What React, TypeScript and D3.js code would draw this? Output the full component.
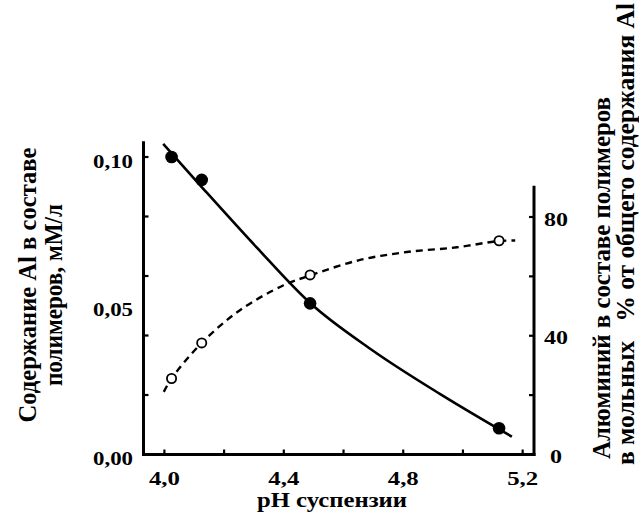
import React from "react";
import * as d3 from "d3";

// Measured points: pH of suspension
const PH_POINTS = [4.024, 4.125, 4.488, 5.121];
// Al in polymers, mM/L (filled circles, left axis)
const AL_CONC = [0.1, 0.0923, 0.0508, 0.0088];
// Al in polymers, mol % of total Al (open circles, right axis)
const AL_PERCENT = [25.6, 37.6, 60.5, 72.0];

// Smoothed trend through the concentration data
const CONC_CURVE_PH = [3.996, 4.125, 4.309, 4.488, 4.7, 4.924, 5.164];
const CONC_CURVE_VAL = [0.1044, 0.0899, 0.0696, 0.0509, 0.0348, 0.0203, 0.006];

// Smoothed trend through the percentage data
const PCT_CURVE_PH = [3.998, 4.024, 4.125, 4.253, 4.399, 4.488, 4.65, 4.812, 4.98, 5.119, 5.175];
const PCT_CURVE_VAL = [21.1, 25.6, 37.6, 48.6, 57.0, 60.3, 65.4, 68.2, 69.8, 71.9, 72.1];

// Axis ticks and labels
const X_TICKS = [4.0, 4.2, 4.4, 4.6, 4.8, 5.0, 5.2];
const X_LABELS = [4.0, 4.4, 4.8, 5.2];
const LEFT_TICKS = [0.02, 0.04, 0.06, 0.08, 0.1];
const LEFT_LABELS = [0.0, 0.05, 0.1];
const RIGHT_TICKS = [20, 40, 60, 80];
const RIGHT_LABELS = [0, 40, 80];

const FONT = "'Liberation Serif', 'Times New Roman', serif";
const comma = (v: number, digits: number) => v.toFixed(digits).replace(".", ",");

export default function App() {
  const x = d3.scaleLinear().domain([3.93, 5.238]).range([143.5, 534]);
  const yL = d3.scaleLinear().domain([0, 0.1]).range([454.5, 157]);
  const yR = d3.scaleLinear().domain([0, 80]).range([454.5, 217]);

  const concLine = d3
    .line<number>()
    .x((_, i) => x(CONC_CURVE_PH[i]))
    .y((d) => yL(d))
    .curve(d3.curveMonotoneX);
  const pctLine = d3
    .line<number>()
    .x((_, i) => x(PCT_CURVE_PH[i]))
    .y((d) => yR(d))
    .curve(d3.curveCatmullRom.alpha(0.5));

  const xLeft = x.range()[0];
  const xRight = x.range()[1];
  const yBottom = yL(0);
  const leftTop = yL(0.1048);
  const rightTop = yR(90);
  const tickLen = 5;

  return (
    <svg
      width={639}
      height={519}
      style={{ position: "absolute", left: 0, top: 0, background: "#fff", fontFamily: FONT }}
      fontWeight="bold"
    >
      <rect width={639} height={519} fill="#fff" />

      {/* axes frame */}
      <g stroke="#000" strokeWidth={3} fill="none" strokeLinecap="square">
        <line x1={xLeft} y1={leftTop} x2={xLeft} y2={yBottom} />
        <line x1={xLeft} y1={yBottom} x2={xRight} y2={yBottom} />
        <line x1={xRight} y1={rightTop} x2={xRight} y2={yBottom} />
      </g>

      {/* ticks */}
      <g stroke="#000" strokeWidth={2.2}>
        {X_TICKS.map((t) => (
          <line key={"xt" + t} x1={x(t)} x2={x(t)} y1={yBottom} y2={yBottom - tickLen} />
        ))}
        {LEFT_TICKS.map((t) => (
          <line key={"lt" + t} x1={xLeft} x2={xLeft + tickLen} y1={yL(t)} y2={yL(t)} />
        ))}
        {RIGHT_TICKS.map((t) => (
          <line key={"rt" + t} x1={xRight} x2={xRight - tickLen} y1={yR(t)} y2={yR(t)} />
        ))}
      </g>

      {/* tick labels */}
      <g fontSize={19} fill="#000">
        {X_LABELS.map((t) => (
          <text
            key={"xl" + t}
            x={x(t) - 15.5}
            y={485}
            textLength={31}
            lengthAdjust="spacingAndGlyphs"
          >
            {comma(t, 1)}
          </text>
        ))}
        {LEFT_LABELS.map((t) => (
          <text
            key={"ll" + t}
            x={133 - 40}
            y={yL(t) + 4}
            dominantBaseline="central"
            textLength={40}
            lengthAdjust="spacingAndGlyphs"
          >
            {comma(t, 2)}
          </text>
        ))}
        {RIGHT_LABELS.map((t) => {
          const w = t === 0 ? 12 : 24;
          return (
            <text
              key={"rl" + t}
              x={556 - w / 2}
              y={yR(t) + 2}
              dominantBaseline="central"
              textLength={w}
              lengthAdjust="spacingAndGlyphs"
            >
              {String(t)}
            </text>
          );
        })}
      </g>

      {/* axis titles */}
      <text
        x={332}
        y={507}
        fontSize={22}
        textAnchor="middle"
        textLength={150}
        lengthAdjust="spacingAndGlyphs"
      >
        pH суспензии
      </text>

      <g fontSize={25}>
        <text
          transform="translate(36,285) rotate(-90)"
          textAnchor="middle"
          textLength={275}
          lengthAdjust="spacingAndGlyphs"
        >
          Содержание Al в составе
        </text>
        <text
          transform="translate(62,295) rotate(-90)"
          textAnchor="middle"
          textLength={182}
          lengthAdjust="spacingAndGlyphs"
        >
          полимеров, мМ/л
        </text>
        <text
          transform="translate(610,278) rotate(-90)"
          textAnchor="middle"
          textLength={362}
          lengthAdjust="spacingAndGlyphs"
        >
          Алюминий в составе полимеров
        </text>
        <text
          transform="translate(634,234) rotate(-90)"
          textAnchor="middle"
          textLength={462}
          lengthAdjust="spacingAndGlyphs"
          style={{ whiteSpace: "pre" }}
        >
          {"в мольных   % от общего содержания Al"}
        </text>
      </g>

      {/* curves */}
      <path d={concLine(CONC_CURVE_VAL) ?? ""} fill="none" stroke="#000" strokeWidth={2.6} />
      <path
        d={pctLine(PCT_CURVE_VAL) ?? ""}
        fill="none"
        stroke="#000"
        strokeWidth={2.4}
        strokeDasharray="7,5"
      />

      {/* markers */}
      {PH_POINTS.map((p, i) => (
        <circle key={"f" + i} cx={x(p)} cy={yL(AL_CONC[i])} r={6.3} fill="#000" />
      ))}
      {PH_POINTS.map((p, i) => (
        <circle
          key={"o" + i}
          cx={x(p)}
          cy={yR(AL_PERCENT[i])}
          r={4.6}
          fill="#fff"
          stroke="#000"
          strokeWidth={1.8}
        />
      ))}
    </svg>
  );
}
